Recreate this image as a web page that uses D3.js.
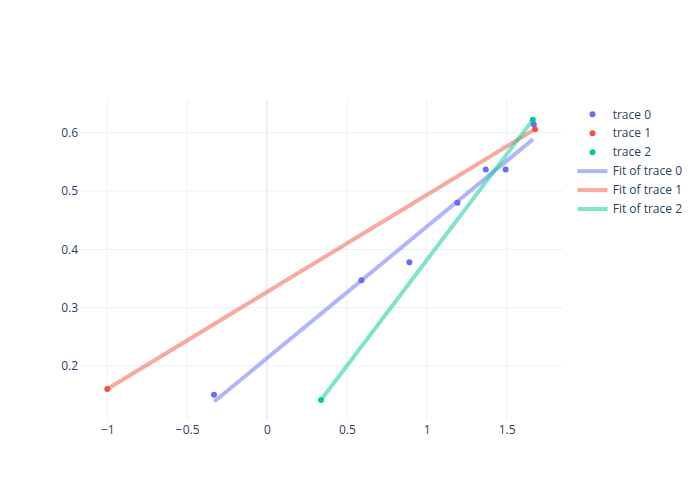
<!DOCTYPE html>
<html><head><meta charset="utf-8">
<script src="https://cdn.jsdelivr.net/npm/d3@7"></script>
<style>body{margin:0;background:#fff}svg{display:block}text{font-family:"Open Sans",sans-serif}</style>
</head><body><svg id="c" width="700" height="500"></svg>
<script>
const traceNames = ["trace 0","trace 1","trace 2"];
const colors = ["#636efa","#EF553B","#00cc96"];
const t0x = [-0.332, 0.591, 0.891, 1.192, 1.369, 1.494, 1.670];
const t0y = [0.1508, 0.347, 0.378, 0.480, 0.537, 0.537, 0.614];
const t1x = [-1.0, 1.678];
const t1y = [0.1606, 0.606];
const t2x = [0.338, 1.664];
const t2y = [0.1417, 0.622];
const fit0x = [-0.330, 1.666], fit0y = [0.139, 0.589];
const fit1x = [-1.0, 1.678], fit1y = [0.1606, 0.606];
const fit2x = [0.338, 1.664], fit2y = [0.1417, 0.622];
const xTicks = [-1, -0.5, 0, 0.5, 1, 1.5];
const yTicks = [0.2, 0.3, 0.4, 0.5, 0.6];

const svg = d3.select("#c");
const L = 80, R = 562.7, T = 100, B = 420;
const x = d3.scaleLinear().domain([-1.171, 1.851]).range([L, R]);
const y = d3.scaleLinear().domain([0.1074, 0.656]).range([B, T]);
const fmt = v => String(v).replace("-", "\u2212");

const g = svg.append("g");
g.selectAll(".gx").data(xTicks).join("line")
  .attr("x1", d => x(d)).attr("x2", d => x(d)).attr("y1", T).attr("y2", B)
  .attr("stroke", "#EBF0F8").attr("stroke-width", d => d === 0 ? 2 : 1);
g.selectAll(".gy").data(yTicks).join("line")
  .attr("x1", L).attr("x2", R).attr("y1", d => y(d)).attr("y2", d => y(d))
  .attr("stroke", "#EBF0F8").attr("stroke-width", 1);

const xa = svg.append("g").attr("transform", `translate(0,${B})`)
  .call(d3.axisBottom(x).tickValues(xTicks).tickFormat(fmt).tickSize(0).tickPadding(5));
const ya = svg.append("g").attr("transform", `translate(${L},0)`)
  .call(d3.axisLeft(y).tickValues(yTicks).tickFormat(fmt).tickSize(0).tickPadding(2));
[xa, ya].forEach(a => {
  a.select(".domain").remove();
  a.selectAll("text").attr("fill", "#2a3f5f").style("font-size", "12px").style("font-family", '"Open Sans",sans-serif');
});

const fits = [[fit0x, fit0y], [fit1x, fit1y], [fit2x, fit2y]];
const line = d3.line().x(d => x(d[0])).y(d => y(d[1]));
fits.forEach((f, i) => {
  svg.append("path").datum(f[0].map((v, j) => [v, f[1][j]]))
    .attr("d", line).attr("fill", "none").attr("stroke", colors[i])
    .attr("stroke-width", 4).attr("stroke-opacity", 0.5);
});
const pts = [[t0x, t0y], [t1x, t1y], [t2x, t2y]];
pts.forEach((p, i) => {
  svg.append("g").selectAll("circle").data(p[0].map((v, j) => [v, p[1][j]])).join("circle")
    .attr("cx", d => x(d[0])).attr("cy", d => y(d[1])).attr("r", 3).attr("fill", colors[i]);
});

const lg = svg.append("g");
[0,1,2,3,4,5].forEach(r => {
  const cy = 114.3 + r * 18.95;
  const i = r % 3;
  if (r < 3) {
    lg.append("circle").attr("cx", 592.5).attr("cy", cy).attr("r", 3).attr("fill", colors[i]);
  } else {
    lg.append("line").attr("x1", 577.5).attr("x2", 607.5).attr("y1", cy).attr("y2", cy)
      .attr("stroke", colors[i]).attr("stroke-width", 4).attr("stroke-opacity", 0.5);
  }
  lg.append("text").attr("x", 612.7).attr("y", cy).attr("dy", "0.35em")
    .attr("fill", "#2a3f5f").style("font-size", "12px")
    .text(r < 3 ? traceNames[i] : "Fit of " + traceNames[i]);
});
</script></body></html>
